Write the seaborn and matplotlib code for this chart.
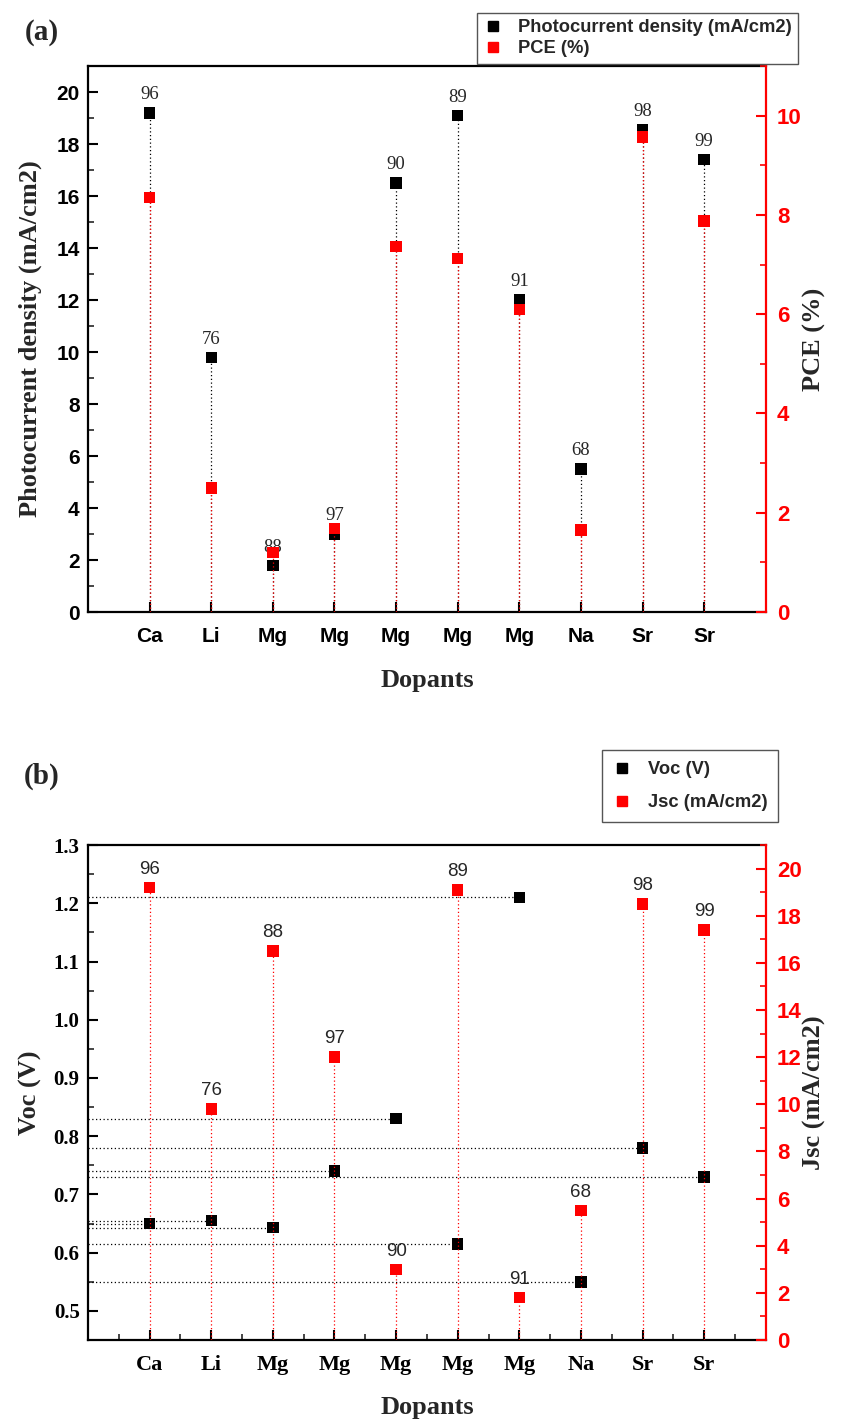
import numpy as np
import matplotlib
matplotlib.use("Agg")
import matplotlib.pyplot as plt
from matplotlib.lines import Line2D
from matplotlib.ticker import MultipleLocator, FixedLocator
import seaborn as sns

# data
dopants = ['Ca', 'Li', 'Mg', 'Mg', 'Mg', 'Mg', 'Mg', 'Na', 'Sr', 'Sr']
labels = [96, 76, 88, 97, 90, 89, 91, 68, 98, 99]

# panel (a)
photocurrent = [19.2, 9.8, 1.8, 3.0, 16.5, 19.1, 12.0, 5.5, 18.55, 17.4]
pce = [8.35, 2.5, 1.2, 1.68, 7.36, 7.12, 6.1, 1.65, 9.57, 7.88]

# panel (b)
voc = [0.65, 0.655, 0.643, 0.74, 0.83, 0.615, 1.21, 0.55, 0.78, 0.73]
jsc = [19.2, 9.8, 16.5, 12.0, 3.0, 19.1, 1.8, 5.5, 18.5, 17.4]

xpos = np.arange(1, len(dopants) + 1)

sns.set_theme(style='ticks')
plt.rcParams['font.family'] = ['Liberation Serif', 'DejaVu Serif']

SERIF = 'Liberation Serif'
SANS = 'Liberation Sans'

fig = plt.figure(figsize=(8.42, 14.21), dpi=100)


def style_axes(ax, axr, xfont, xsize):
    for sp in ['left', 'bottom', 'top']:
        ax.spines[sp].set_linewidth(1.6)
        ax.spines[sp].set_color('black')
    ax.spines['right'].set_visible(False)
    for sp in ['left', 'bottom', 'top']:
        axr.spines[sp].set_visible(False)
    axr.spines['right'].set_color('red')
    axr.spines['right'].set_linewidth(1.6)
    ax.set_xlim(0, 11)
    ax.set_xticks(xpos)
    ax.set_xticklabels(dopants, fontfamily=xfont, fontweight='bold', fontsize=xsize)
    ax.tick_params(axis='both', which='major', direction='in', length=7, width=1.5,
                   colors='black', top=False, right=False, pad=6)
    ax.tick_params(axis='both', which='minor', direction='in', length=4, width=1.2,
                   top=False, right=False)
    ax.tick_params(axis='x', pad=11)
    axr.tick_params(axis='y', which='major', direction='in', length=7, width=1.5,
                    colors='red', pad=8)
    axr.tick_params(axis='y', which='minor', direction='in', length=4, width=1.2,
                    colors='red')
    for t in axr.get_yticklabels():
        t.set_fontfamily(SANS)
        t.set_fontweight('bold')
        t.set_fontsize(16)
    ax.grid(False)
    axr.grid(False)


def drop_legend(ax):
    leg = ax.get_legend()
    if leg is not None:
        leg.remove()


# ---------------- panel (a) ----------------
ax1 = fig.add_axes([0.1045, 0.5693, 0.805, 0.3842])
ax1r = ax1.twinx()

ax1.vlines(xpos, 0, photocurrent, colors='black', linestyles=(0, (1, 2)), linewidth=0.9)
sns.scatterplot(x=xpos, y=photocurrent, marker='s', color='black', s=68,
                edgecolor='none', ax=ax1, zorder=3)
ax1r.vlines(xpos, 0, pce, colors='red', linestyles=(0, (1, 2)), linewidth=0.9)
sns.scatterplot(x=xpos, y=pce, marker='s', color='red', s=68,
                edgecolor='none', ax=ax1r, zorder=3)
drop_legend(ax1)
drop_legend(ax1r)

for x, y, lab in zip(xpos, photocurrent, labels):
    ax1.annotate(str(lab), (x, y), xytext=(0, 7), textcoords='offset points',
                 ha='center', va='bottom', fontfamily=SERIF, fontsize=13.5)

ax1.set_ylim(0, 21)
ax1.yaxis.set_major_locator(MultipleLocator(2))
ax1.yaxis.set_minor_locator(MultipleLocator(1))
ax1r.set_ylim(0, 11)
ax1r.yaxis.set_major_locator(MultipleLocator(2))
ax1r.yaxis.set_minor_locator(MultipleLocator(1))
style_axes(ax1, ax1r, SANS, 15)
ax1.xaxis.set_minor_locator(FixedLocator([]))
for t in ax1.get_yticklabels():
    t.set_fontfamily(SANS)
    t.set_fontweight('bold')
    t.set_fontsize(15)

ax1.set_xlabel('Dopants', fontfamily=SERIF, fontweight='bold', fontsize=19)
ax1.set_ylabel('Photocurrent density (mA/cm2)', fontfamily=SERIF, fontweight='bold', fontsize=19)
ax1r.set_ylabel('PCE (%)', fontfamily=SERIF, fontweight='bold', fontsize=19)
ax1.xaxis.set_label_coords(0.5, -0.125)
ax1.yaxis.set_label_coords(-0.0855, 0.5)
ax1r.yaxis.set_label_coords(1.072, 0.5)

hand_a = [Line2D([], [], marker='s', color='black', linestyle='none', markersize=7.5),
          Line2D([], [], marker='s', color='red', linestyle='none', markersize=7.5)]
fig.legend(hand_a, ['Photocurrent density (mA/cm2)', 'PCE (%)'],
           loc='upper left', bbox_to_anchor=(477 / 842, 1 - 13 / 1421),
           frameon=True, fancybox=False, edgecolor='#555555', framealpha=1,
           prop={'family': SANS, 'weight': 'bold', 'size': 13.2},
           handletextpad=0.9, labelspacing=0.2, borderpad=0.35,
           handlelength=1.0, borderaxespad=0)

fig.text(42 / 842, 1 - 32 / 1421, '(a)', ha='center', va='center',
         fontfamily=SERIF, fontweight='bold', fontsize=21)

# ---------------- panel (b) ----------------
ax2 = fig.add_axes([0.1045, 0.057, 0.805, 0.3483])
ax2r = ax2.twinx()

ax2.hlines(voc, 0, xpos, colors='black', linestyles=(0, (1, 2)), linewidth=0.9)
sns.scatterplot(x=xpos, y=voc, marker='s', color='black', s=68,
                edgecolor='none', ax=ax2, zorder=3)
ax2r.vlines(xpos, 0, jsc, colors='red', linestyles=(0, (1, 2)), linewidth=0.9)
sns.scatterplot(x=xpos, y=jsc, marker='s', color='red', s=68,
                edgecolor='none', ax=ax2r, zorder=3)
drop_legend(ax2)
drop_legend(ax2r)

for x, y, lab in zip(xpos, jsc, labels):
    ax2r.annotate(str(lab), (x, y), xytext=(0, 7), textcoords='offset points',
                  ha='center', va='bottom', fontfamily=SANS, fontsize=13.5)

ax2.set_ylim(0.45, 1.3)
ax2.yaxis.set_minor_locator(MultipleLocator(0.05))
ax2r.set_ylim(0, 21)
ax2r.yaxis.set_major_locator(MultipleLocator(2))
ax2r.yaxis.set_minor_locator(MultipleLocator(1))
style_axes(ax2, ax2r, SERIF, 16)
ax2.xaxis.set_minor_locator(FixedLocator(np.arange(0.5, 11, 1.0)))
voc_ticks = np.round(np.arange(0.5, 1.31, 0.1), 1)
ax2.set_yticks(voc_ticks)
ax2.set_yticklabels([f'{v:.1f}' for v in voc_ticks],
                    fontfamily=SERIF, fontweight='bold', fontsize=15)

ax2.set_xlabel('Dopants', fontfamily=SERIF, fontweight='bold', fontsize=19)
ax2.set_ylabel('Voc (V)', fontfamily=SERIF, fontweight='bold', fontsize=19)
ax2r.set_ylabel('Jsc (mA/cm2)', fontfamily=SERIF, fontweight='bold', fontsize=19)
ax2.xaxis.set_label_coords(0.5, -0.137)
ax2.yaxis.set_label_coords(-0.0855, 0.5)
ax2r.yaxis.set_label_coords(1.072, 0.5)

hand_b = [Line2D([], [], marker='s', color='black', linestyle='none', markersize=7.5),
          Line2D([], [], marker='s', color='red', linestyle='none', markersize=7.5)]
fig.legend(hand_b, ['Voc (V)', 'Jsc (mA/cm2)'],
           loc='upper left', bbox_to_anchor=(602 / 842, 1 - 750 / 1421),
           frameon=True, fancybox=False, edgecolor='#555555', framealpha=1,
           prop={'family': SANS, 'weight': 'bold', 'size': 13.2},
           handletextpad=0.9, labelspacing=0.9, borderpad=0.6,
           handlelength=1.0, borderaxespad=0)

fig.text(42 / 842, 1 - 776 / 1421, '(b)', ha='center', va='center',
         fontfamily=SERIF, fontweight='bold', fontsize=21)

for lab in [ax1.xaxis.label, ax1.yaxis.label, ax1r.yaxis.label,
            ax2.xaxis.label, ax2.yaxis.label, ax2r.yaxis.label]:
    lab.set_va('center')
    lab.set_ha('center')

fig.savefig('out.png', dpi=100)
